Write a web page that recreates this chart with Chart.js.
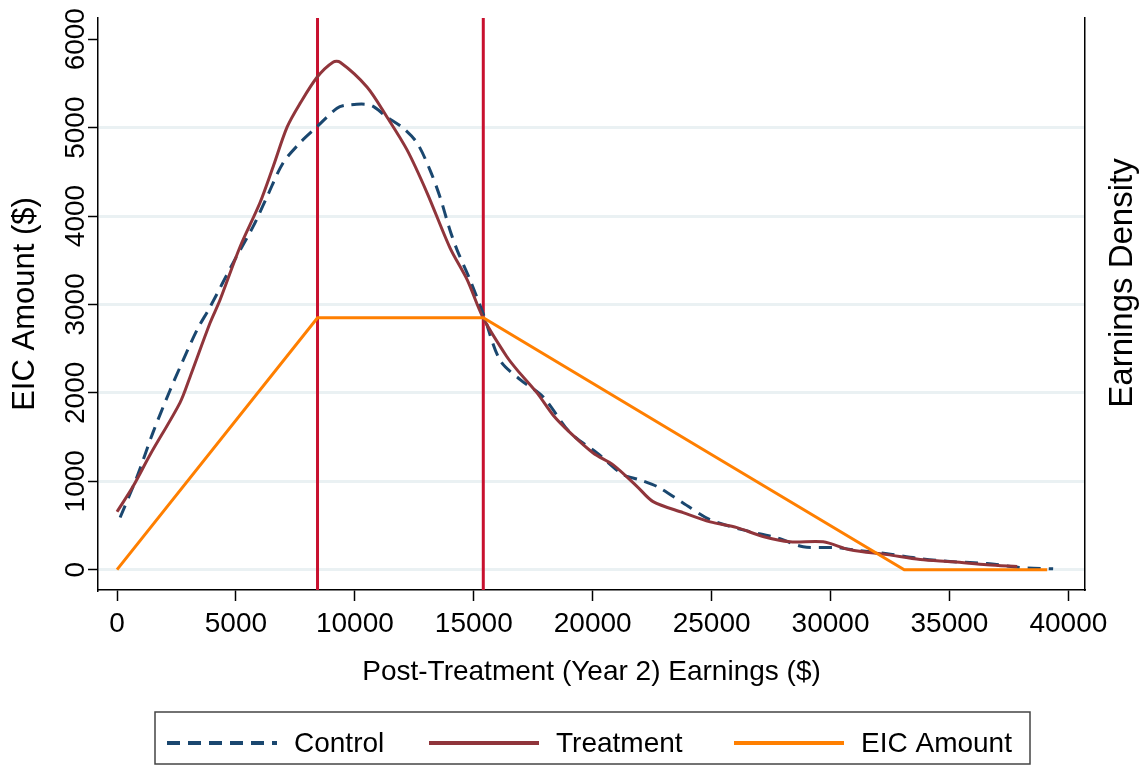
<!DOCTYPE html>
<html>
<head>
<meta charset="utf-8">
<script src="https://cdn.jsdelivr.net/npm/chart.js@4.4.1/dist/chart.umd.min.js"></script>
<style>
  html, body { margin: 0; padding: 0; background: #fff; }
  #wrap { width: 1143px; height: 768px; }
</style>
</head>
<body>
<div id="wrap"><canvas id="eicplot"></canvas></div>
<script>
// values (earnings in $, heights in left-axis units)
var controlEarn = [130, 840, 1510, 2230, 2650, 3360, 3910, 4880, 5720, 6310, 6980, 7700, 8410, 9250, 9670, 10640, 11350, 12030, 12620, 13160, 13580, 14000, 14300, 14840, 15390, 16100, 16950, 17910, 19050, 20180, 21280, 21990, 22710, 23800, 24940, 26320, 27750, 28850, 30280, 30950, 32380, 33770, 35150, 36580, 37970, 39360];
var controlVal = [590, 1050, 1550, 2030, 2290, 2710, 2970, 3470, 3880, 4220, 4600, 4830, 5010, 5220, 5255, 5255, 5120, 4995, 4825, 4520, 4215, 3840, 3615, 3280, 2900, 2370, 2150, 1955, 1550, 1320, 1075, 1015, 940, 755, 565, 450, 360, 260, 250, 225, 180, 125, 90, 70, 25, 10];

var treatEarn = [0, 670, 1390, 2650, 3070, 3910, 4330, 5170, 6010, 6560, 7150, 7700, 8410, 9080, 9380, 10510, 11350, 12200, 13040, 14000, 14720, 15390, 16400, 16820, 17660, 18330, 19050, 20020, 20860, 21870, 22540, 23800, 24940, 26070, 27160, 28300, 29690, 30820, 32380, 33770, 35150, 36580, 37850];
var treatVal = [655, 940, 1300, 1890, 2180, 2790, 3050, 3650, 4150, 4555, 5005, 5275, 5570, 5740, 5740, 5460, 5120, 4745, 4260, 3640, 3280, 2850, 2405, 2260, 2000, 1750, 1550, 1320, 1185, 940, 770, 645, 540, 475, 375, 315, 315, 225, 170, 115, 90, 55, 35];

var eicEarn = [0, 8430, 15400, 24640, 33100, 39110];
var eicVal = [0, 2850, 2850, 1360, 0, 0];

var kinkEarn = [8430, 15400];

var xTicks = [0, 5000, 10000, 15000, 20000, 25000, 30000, 35000, 40000];
var yTicks = [0, 1000, 2000, 3000, 4000, 5000, 6000];

var yMin = -230, yMax = 6240;

function toPoints(xs, ys) {
    return xs.map(function (x, i) { return { x: x, y: ys[i] }; });
}

var FONT = "'Liberation Sans', Arial, Helvetica, sans-serif";
Chart.defaults.font.family = FONT;
Chart.defaults.color = '#000';

var datasets = [
    {
        label: 'Control',
        data: toPoints(controlEarn, controlVal),
        borderColor: '#1a476f',
        borderWidth: 3,
        borderDash: [13, 8],
        tension: 0.3,
        order: 2,
        inLegend: true
    },
    {
        label: 'Treatment',
        data: toPoints(treatEarn, treatVal),
        borderColor: '#90353b',
        borderWidth: 3,
        tension: 0.3,
        order: 1,
        inLegend: true
    },
    {
        label: 'EIC Amount',
        data: toPoints(eicEarn, eicVal),
        borderColor: '#ff7f00',
        borderWidth: 3,
        tension: 0,
        order: 0,
        inLegend: true
    }
];

kinkEarn.forEach(function (k) {
    datasets.push({
        label: 'kink',
        data: [{ x: k, y: yMin }, { x: k, y: yMax }],
        borderColor: '#c8102e',
        borderWidth: 3,
        order: 3,
        inLegend: false
    });
});

// legend box under the plot, Stata style
var boxLegend = {
    id: 'boxLegend',
    afterDraw: function (chart) {
        var ctx = chart.ctx;
        ctx.save();
        ctx.strokeStyle = '#444';
        ctx.lineWidth = 1.5;
        ctx.strokeRect(155, 712, 875, 52);
        var lineX = [167, 429, 734];
        var i = 0;
        ctx.font = '28px ' + FONT;
        ctx.textBaseline = 'middle';
        ctx.fillStyle = '#000';
        chart.data.datasets.forEach(function (ds) {
            if (!ds.inLegend) return;
            var x0 = lineX[i++];
            ctx.beginPath();
            ctx.strokeStyle = ds.borderColor;
            ctx.lineWidth = 4;
            ctx.setLineDash(ds.borderDash || []);
            ctx.moveTo(x0, 743);
            ctx.lineTo(x0 + 110, 743);
            ctx.stroke();
            ctx.setLineDash([]);
            ctx.fillText(ds.label, x0 + 127, 744);
        });

        // right axis title reads bottom-to-top
        ctx.translate(1123, 283);
        ctx.rotate(-Math.PI / 2);
        ctx.textAlign = 'center';
        ctx.font = '33px ' + FONT;
        ctx.fillText('Earnings Density', 0, 0);
        ctx.restore();
    }
};

function plain(v) { return String(v); }

var ctx = document.getElementById('eicplot').getContext('2d');
var eicChart = new Chart(ctx, {
    type: 'scatter',
    data: { datasets: datasets },
    options: {
        responsive: true,
        maintainAspectRatio: false,
        animation: false,
        showLine: true,
        elements: { point: { radius: 0 } },
        layout: { padding: { top: 18, bottom: 68, left: 0, right: 0 } },
        plugins: {
            legend: { display: false },
            tooltip: { enabled: false }
        },
        scales: {
            x: {
                type: 'linear',
                min: -800,
                max: 40700,
                afterBuildTicks: function (scale) {
                    scale.ticks = xTicks.map(function (v) { return { value: v }; });
                },
                afterFit: function (scale) { scale.height = 110; },
                ticks: {
                    font: { size: 28 },
                    color: '#000',
                    padding: 6,
                    maxRotation: 0,
                    autoSkip: false,
                    callback: plain
                },
                grid: {
                    drawOnChartArea: false,
                    tickColor: '#000',
                    tickLength: 11,
                    tickWidth: 1.5
                },
                border: { display: true, color: '#000', width: 1.5 },
                title: {
                    display: true,
                    text: 'Post-Treatment (Year 2) Earnings ($)',
                    font: { size: 28 },
                    color: '#000',
                    padding: { top: 0, bottom: 11 }
                }
            },
            y: {
                position: 'left',
                min: yMin,
                max: yMax,
                afterBuildTicks: function (scale) {
                    scale.ticks = yTicks.map(function (v) { return { value: v }; });
                },
                afterFit: function (scale) { scale.width = 98; },
                ticks: {
                    font: { size: 28 },
                    color: '#000',
                    minRotation: 90,
                    maxRotation: 90,
                    crossAlign: 'center',
                    padding: -19,
                    autoSkip: false,
                    callback: plain
                },
                grid: {
                    color: function (c) {
                        return c.tick && c.tick.value === 6000 ? 'rgba(0,0,0,0)' : '#eaf1f3';
                    },
                    lineWidth: 3,
                    tickColor: '#000',
                    tickLength: 10,
                    tickWidth: 1.5
                },
                border: { display: true, color: '#000', width: 1.5 },
                title: {
                    display: true,
                    text: 'EIC Amount ($)',
                    font: { size: 31 },
                    color: '#000',
                    padding: { top: 7, bottom: 0 }
                }
            },
            y2: {
                position: 'right',
                display: true,
                min: 0,
                max: 1,
                afterFit: function (scale) { scale.width = 58; },
                ticks: { display: false },
                grid: { display: false },
                border: { display: true, color: '#000', width: 1.5 }
            }
        }
    },
    plugins: [boxLegend]
});
</script>
</body>
</html>
